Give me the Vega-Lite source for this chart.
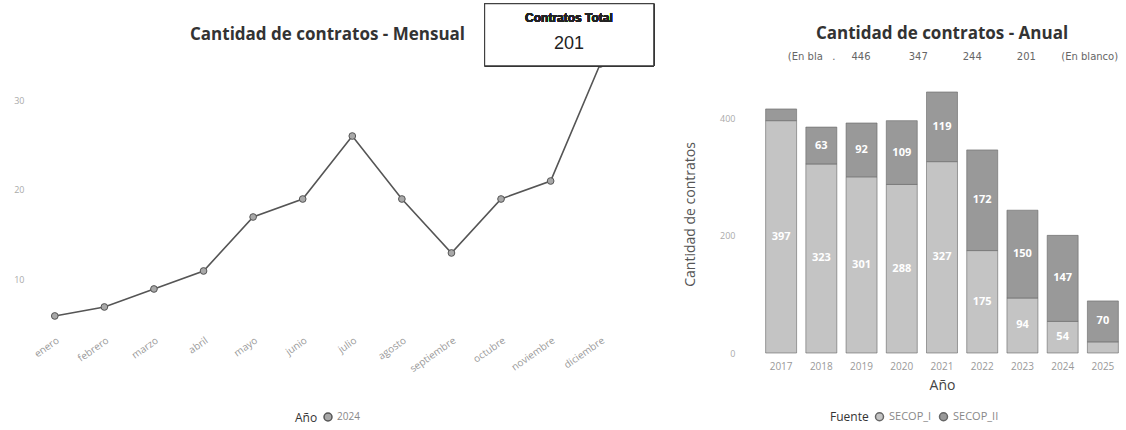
{
  "$schema": "https://vega.github.io/schema/vega-lite/v6.json",
  "background": "white",
  "padding": {"left": 13, "top": 3, "right": 2, "bottom": 2},
  "config": {"view": {"stroke": null}, "font": "Open Sans", "legend": {"layout": {"bottom": {"anchor": "middle"}}}},
  "spacing": 28,
  "resolve": {"scale": {"color": "independent"}, "legend": {"color": "independent"}},
  "hconcat": [
    {
      "width": 595,
      "height": 255,
      "title": {"text": "Cantidad de contratos - Mensual", "fontSize": 17, "fontWeight": "bold", "color": "#333", "anchor": "middle", "offset": -41},
      "data": {"values": [
        {"m": 1, "mes": "enero", "n": 6, "anio": "2024"},
        {"m": 2, "mes": "febrero", "n": 7, "anio": "2024"},
        {"m": 3, "mes": "marzo", "n": 9, "anio": "2024"},
        {"m": 4, "mes": "abril", "n": 11, "anio": "2024"},
        {"m": 5, "mes": "mayo", "n": 17, "anio": "2024"},
        {"m": 6, "mes": "junio", "n": 19, "anio": "2024"},
        {"m": 7, "mes": "julio", "n": 26, "anio": "2024"},
        {"m": 8, "mes": "agosto", "n": 19, "anio": "2024"},
        {"m": 9, "mes": "septiembre", "n": 13, "anio": "2024"},
        {"m": 10, "mes": "octubre", "n": 19, "anio": "2024"},
        {"m": 11, "mes": "noviembre", "n": 21, "anio": "2024"},
        {"m": 12, "mes": "diciembre", "n": 34, "anio": "2024"}
      ]},
      "layer": [
        {"mark": {"type": "line", "color": "#555", "strokeWidth": 1.6},
          "encoding": {
            "x": {"field": "m", "type": "quantitative", "scale": {"domain": [0.5, 12.5], "nice": false, "zero": false},
              "axis": {"values": [1,2,3,4,5,6,7,8,9,10,11,12], "labelExpr": "['enero','febrero','marzo','abril','mayo','junio','julio','agosto','septiembre','octubre','noviembre','diciembre'][datum.value-1]",
                "labelAngle": -35, "labelAlign": "right", "labelBaseline": "top", "domain": false, "ticks": false, "grid": false, "labelColor": "#999", "labelFontSize": 10, "labelPadding": 5, "title": null}},
            "y": {"field": "n", "type": "quantitative", "scale": {"domain": [4.44, 32.78], "nice": false, "zero": false},
              "axis": {"values": [10, 20, 30], "domain": false, "ticks": false, "grid": false, "labelColor": "#aaa", "labelFontSize": 9, "labelPadding": 6, "title": null}}
          }},
        {"mark": {"type": "point", "filled": true, "size": 45, "stroke": "#555", "strokeWidth": 1, "opacity": 1},
          "encoding": {
            "x": {"field": "m", "type": "quantitative"},
            "y": {"field": "n", "type": "quantitative"},
            "color": {"field": "anio", "type": "nominal", "scale": {"range": ["#a8a8a8"]},
            "legend": {"title": "Año", "orient": "bottom", "direction": "horizontal", "titleOrient": "left", "symbolType": "circle", "symbolSize": 64, "symbolStrokeColor": "#555", "titleFontWeight": "normal", "titleFontSize": 12, "titleColor": "#333", "labelColor": "#888", "labelFontSize": 10, "offset": 38}}}},
        {"mark": {"type": "rect", "fill": "white", "stroke": "#333", "strokeWidth": 1},
          "encoding": {"x": {"datum": 9.67, "type": "quantitative"}, "x2": {"datum": 13.08}, "y": {"datum": 40.7, "type": "quantitative"}, "y2": {"datum": 33.8}}},
        {"mark": {"type": "text", "text": "Contratos Total", "font": "Arial", "fontSize": 12, "fontWeight": "bold", "color": "#222"},
          "encoding": {"x": {"datum": 11.37, "type": "quantitative"}, "y": {"datum": 39.1, "type": "quantitative"}}},
        {"transform": [{"joinaggregate": [{"op": "sum", "field": "n", "as": "total"}]}, {"filter": "datum.m == 12"}],
          "mark": {"type": "text", "font": "Arial", "fontSize": 18, "color": "#222"},
          "encoding": {"x": {"datum": 11.37, "type": "quantitative"}, "y": {"datum": 36.2, "type": "quantitative"}, "text": {"field": "total", "type": "nominal"}}}
      ]
    },
    {
      "width": 362,
      "height": 278,
      "title": {"text": "Cantidad de contratos - Anual", "subtitle": "\u2800\u2800\u2800(En bla\u00a0\u00a0\u00a0.\u00a0\u00a0\u00a0\u00a0\u00a0446\u00a0\u00a0\u00a0\u00a0\u00a0\u00a0\u00a0\u00a0\u00a0\u00a0\u00a0\u00a0347\u00a0\u00a0\u00a0\u00a0\u00a0\u00a0\u00a0\u00a0\u00a0\u00a0\u00a0244\u00a0\u00a0\u00a0\u00a0\u00a0\u00a0\u00a0\u00a0\u00a0\u00a0\u00a0201\u00a0\u00a0\u00a0\u00a0\u00a0\u00a0\u00a0\u00a0(En blanco)",
        "fontSize": 17, "fontWeight": "bold", "color": "#333", "anchor": "middle", "subtitleFontSize": 10, "subtitleColor": "#666", "subtitleFont": "DejaVu Sans", "subtitlePadding": 9, "offset": 12},
      "data": {"values": [
        {"anio": "2017", "fuente": "SECOP_I", "n": 397}, {"anio": "2017", "fuente": "SECOP_II", "n": 20},
        {"anio": "2018", "fuente": "SECOP_I", "n": 323}, {"anio": "2018", "fuente": "SECOP_II", "n": 63},
        {"anio": "2019", "fuente": "SECOP_I", "n": 301}, {"anio": "2019", "fuente": "SECOP_II", "n": 92},
        {"anio": "2020", "fuente": "SECOP_I", "n": 288}, {"anio": "2020", "fuente": "SECOP_II", "n": 109},
        {"anio": "2021", "fuente": "SECOP_I", "n": 327}, {"anio": "2021", "fuente": "SECOP_II", "n": 119},
        {"anio": "2022", "fuente": "SECOP_I", "n": 175}, {"anio": "2022", "fuente": "SECOP_II", "n": 172},
        {"anio": "2023", "fuente": "SECOP_I", "n": 94}, {"anio": "2023", "fuente": "SECOP_II", "n": 150},
        {"anio": "2024", "fuente": "SECOP_I", "n": 54}, {"anio": "2024", "fuente": "SECOP_II", "n": 147},
        {"anio": "2025", "fuente": "SECOP_I", "n": 19}, {"anio": "2025", "fuente": "SECOP_II", "n": 70}
      ]},
      "encoding": {
        "x": {"field": "anio", "type": "ordinal", "scale": {"paddingInner": 0.23, "paddingOuter": 0.115},
          "axis": {"labelAngle": 0, "domain": false, "ticks": false, "labelColor": "#999", "labelFontSize": 10, "labelPadding": 8, "title": "Año", "titleFontSize": 14, "titleFontWeight": "normal", "titleColor": "#444", "titlePadding": 7}}
      },
      "layer": [
        {"mark": {"type": "bar", "stroke": "#666", "strokeWidth": 0.6},
          "encoding": {
            "y": {"field": "n", "type": "quantitative", "stack": "zero", "scale": {"domain": [0, 475], "nice": false},
              "axis": {"values": [0, 200, 400], "domain": false, "ticks": false, "grid": false, "labelColor": "#aaa", "labelFontSize": 9, "labelPadding": 26, "title": "Cantidad de contratos", "titleFontSize": 14, "titleFontWeight": "normal", "titleColor": "#555", "titlePadding": 22}},
            "order": {"field": "fuente", "type": "nominal", "sort": "ascending"},
            "color": {"field": "fuente", "type": "nominal", "scale": {"domain": ["SECOP_I", "SECOP_II"], "range": ["#c4c4c4", "#999999"]},
              "legend": {"title": "Fuente", "orient": "bottom", "direction": "horizontal", "titleOrient": "left", "symbolType": "circle", "symbolSize": 64, "symbolStrokeColor": "#666", "titleFontWeight": "normal", "titleFontSize": 12, "titleColor": "#333", "labelColor": "#888", "labelFontSize": 11, "columnPadding": 4, "labelOffset": 4,
                "labelExpr": "datum.label == 'SECOP_II' ? datum.label + '\u2800\u2800\u2800\u2800\u2800\u2800\u2800' : datum.label", "offset": 19}}
          }},
        {"mark": {"type": "text", "color": "white", "fontSize": 11, "fontWeight": "bold"},
          "encoding": {
            "y": {"field": "n", "type": "quantitative", "stack": "zero", "bandPosition": 0.5},
            "order": {"field": "fuente", "type": "nominal", "sort": "ascending"},
            "detail": {"field": "fuente", "type": "nominal"},
            "text": {"field": "n", "type": "quantitative"},
            "opacity": {"condition": {"test": "datum.n < 30", "value": 0}, "value": 1}
          }}
      ]
    }
  ]
}
